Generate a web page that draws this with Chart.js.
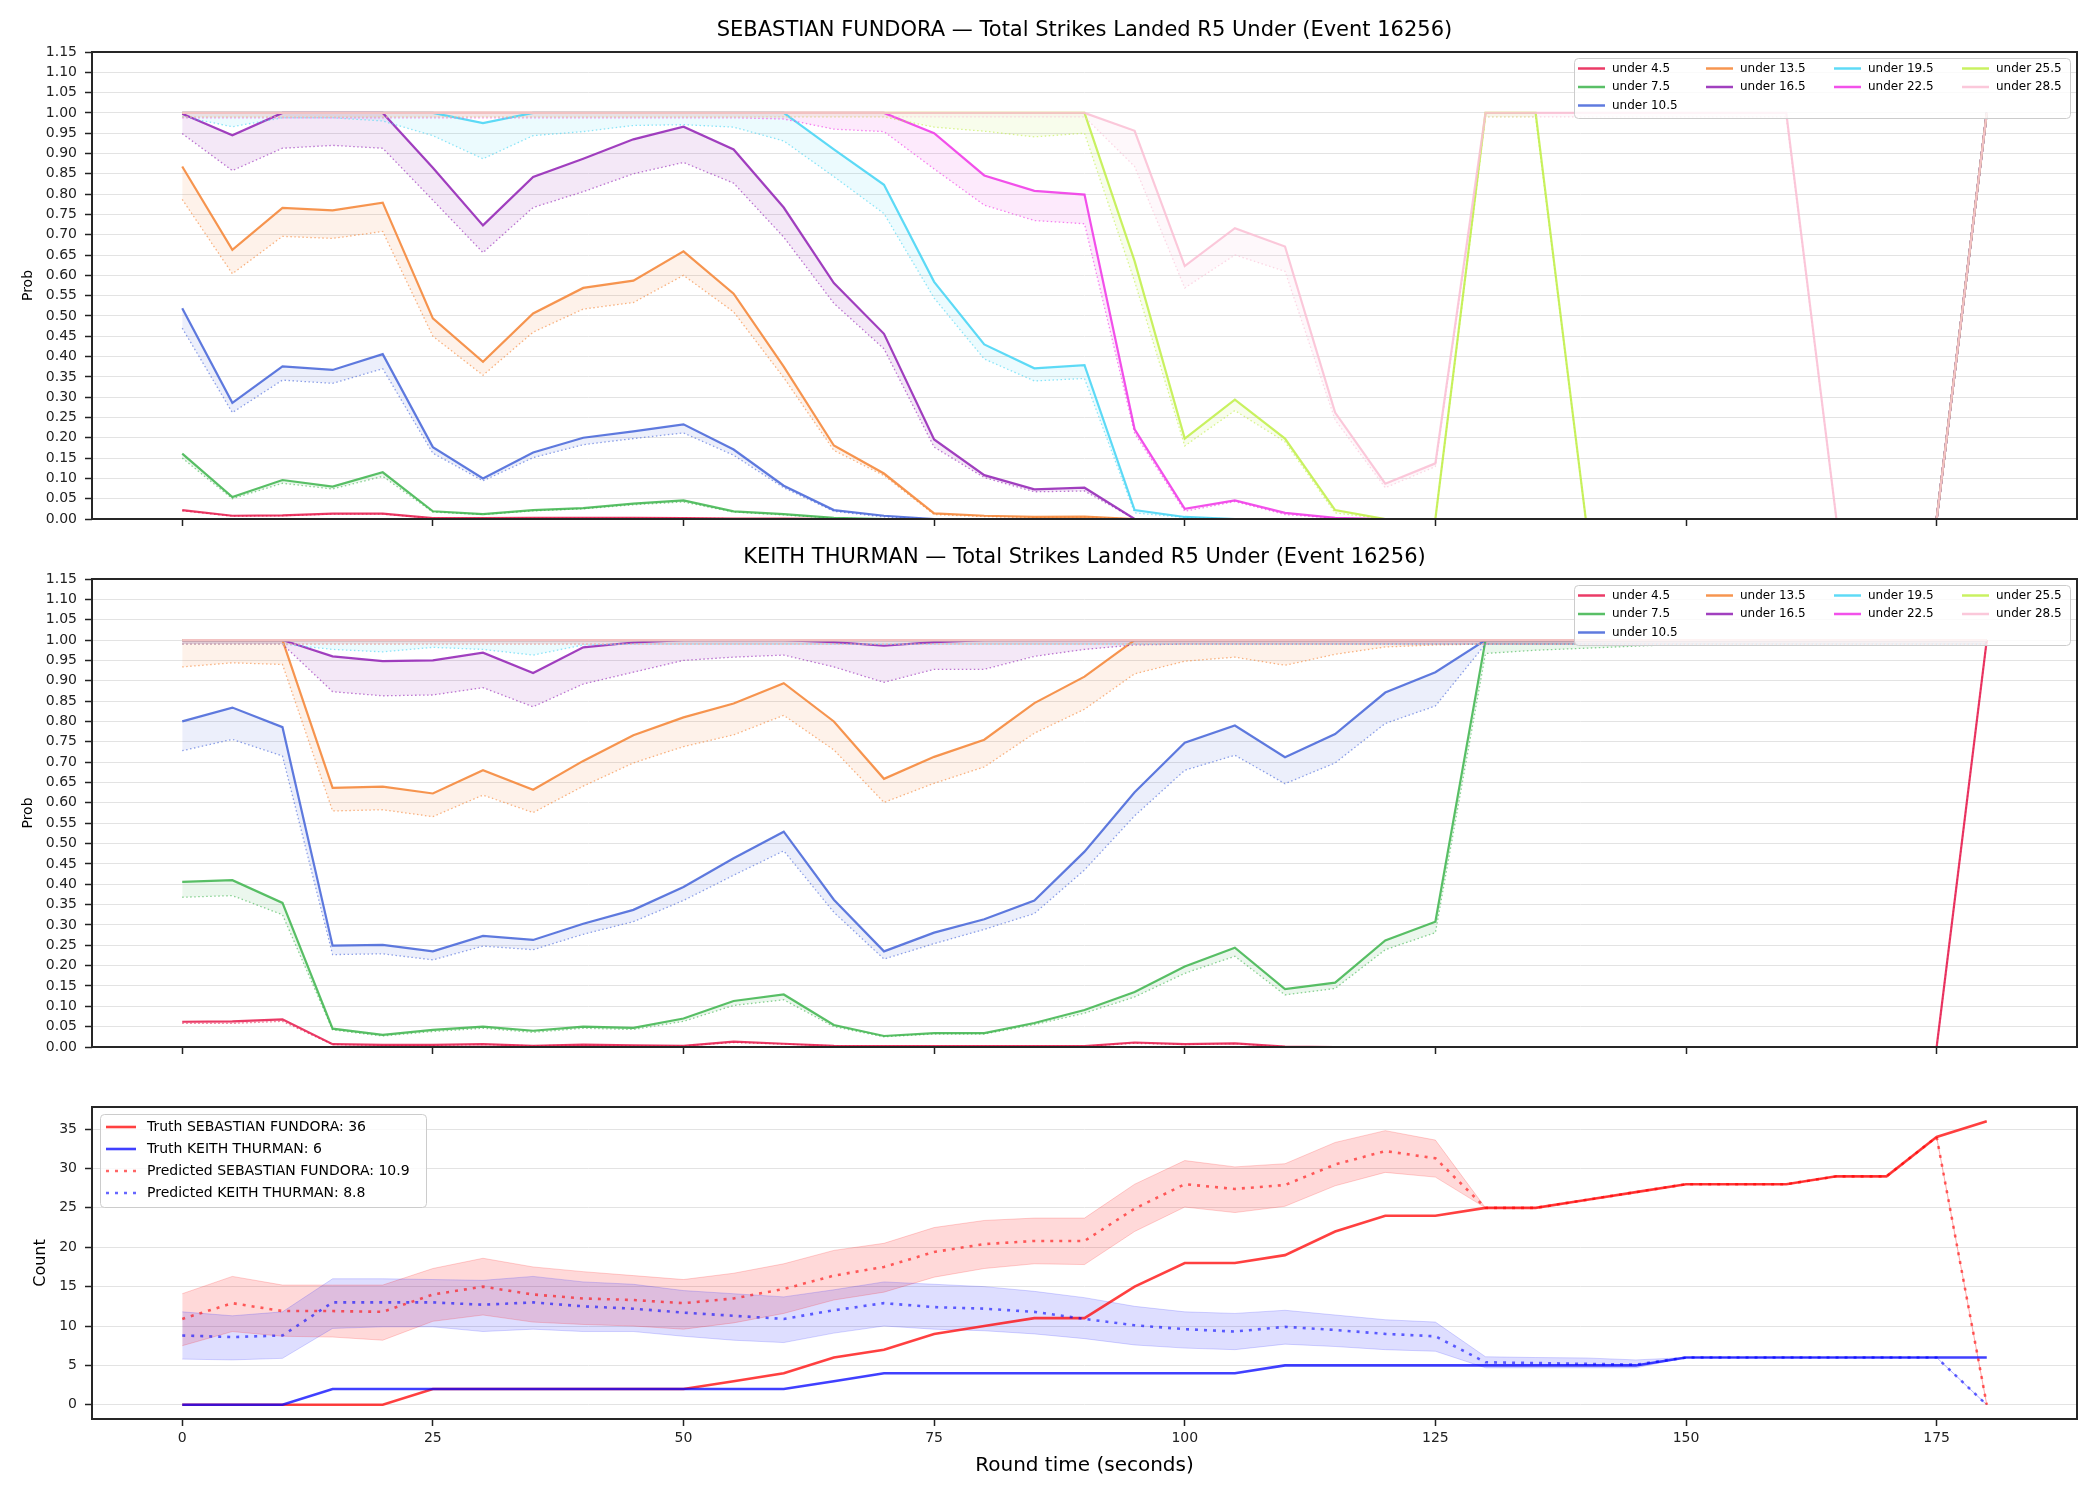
<!DOCTYPE html>
<html>
<head>
<meta charset="utf-8">
<script src="https://cdn.jsdelivr.net/npm/chart.js@4.4.1/dist/chart.umd.min.js"></script>
<style>
  body { margin: 0; background: #fff; width: 2100px; height: 1500px; position: relative; overflow: hidden; }
  canvas { position: absolute; left: 0; }
</style>
</head>
<body>
<canvas id="fundoraChart" width="2100" height="541" style="top:0px"></canvas>
<canvas id="thurmanChart" width="2100" height="539" style="top:530px"></canvas>
<canvas id="countChart" width="2100" height="430" style="top:1070px"></canvas>
<script>
// Round time in seconds (one sample every 5s)
const timeSec = [0,5,10,15,20,25,30,35,40,45,50,55,60,65,70,75,80,85,90,95,100,105,110,115,120,125,130,135,140,145,150,155,160,165,170,175,180];

// Tick labels
const timeTicks = [0,25,50,75,100,125,150,175];
const probTicks = [0,0.05,0.1,0.15,0.2,0.25,0.3,0.35,0.4,0.45,0.5,0.55,0.6,0.65,0.7,0.75,0.8,0.85,0.9,0.95,1,1.05,1.1,1.15];
const countTicks = [0,5,10,15,20,25,30,35];

const thresholdLabels = ['under 4.5','under 7.5','under 10.5','under 13.5','under 16.5','under 19.5','under 22.5','under 25.5','under 28.5'];
const thresholdColors = ['#e6194b','#3cb44b','#4363d8','#f58231','#911eb4','#42d4f4','#f032e6','#bfef45','#fabed4'];

// SEBASTIAN FUNDORA - market prob (solid) and predicted prob (dotted)
const fundoraU4_5      = [0.022,0.008,0.009,0.013,0.013, 0.002,0.002,0.003,0.003,0.003, 0.002,0.001,0.001,0,0, 0,0,0,0,0, 0,0,0,0,0, 0,0,0,0,0, 0,0,0,0,0, 0,1];
const fundoraU4_5Pred  = [0.020,0.007,0.008,0.012,0.012, 0.002,0.002,0.002,0.002,0.002, 0.002,0.001,0.001,0,0, 0,0,0,0,0, 0,0,0,0,0, 0,0,0,0,0, 0,0,0,0,0, 0,1];
const fundoraU7_5      = [0.161,0.054,0.096,0.080,0.115, 0.019,0.012,0.022,0.027,0.038, 0.046,0.019,0.012,0.003,0, 0,0,0,0,0, 0,0,0,0,0, 0,0,0,0,0, 0,0,0,0,0, 0,1];
const fundoraU7_5Pred  = [0.150,0.050,0.088,0.074,0.105, 0.017,0.011,0.020,0.025,0.035, 0.042,0.017,0.010,0.002,0, 0,0,0,0,0, 0,0,0,0,0, 0,0,0,0,0, 0,0,0,0,0, 0,1];
const fundoraU10_5     = [0.519,0.286,0.376,0.367,0.406, 0.177,0.100,0.164,0.200,0.216, 0.233,0.171,0.082,0.022,0.008, 0,0,0,0,0, 0,0,0,0,0, 0,0,0,0,0, 0,0,0,0,0, 0,1];
const fundoraU10_5Pred = [0.470,0.262,0.342,0.334,0.370, 0.162,0.094,0.151,0.183,0.198, 0.212,0.157,0.077,0.019,0.005, 0,0,0,0,0, 0,0,0,0,0, 0,0,0,0,0, 0,0,0,0,0, 0,1];
const fundoraU13_5     = [0.868,0.663,0.766,0.760,0.779, 0.494,0.387,0.506,0.569,0.587, 0.659,0.555,0.375,0.181,0.112, 0.014,0.008,0.005,0.006,0, 0,0,0,0,0, 0,0,0,0,0, 0,0,0,0,0, 0,1];
const fundoraU13_5Pred = [0.787,0.604,0.696,0.691,0.708, 0.450,0.354,0.460,0.517,0.533, 0.600,0.510,0.348,0.169,0.107, 0.011,0.006,0.004,0.005,0, 0,0,0,0,0, 0,0,0,0,0, 0,0,0,0,0, 0,1];
const fundoraU16_5     = [0.998,0.945,1,1,1, 0.865,0.723,0.842,0.887,0.935, 0.966,0.910,0.767,0.581,0.456, 0.196,0.108,0.073,0.077,0, 0,0,0,0,0, 0,0,0,0,0, 0,0,0,0,0, 0,1];
const fundoraU16_5Pred = [0.949,0.858,0.913,0.920,0.913, 0.785,0.656,0.767,0.806,0.850, 0.878,0.827,0.694,0.531,0.419, 0.177,0.102,0.067,0.069,0, 0,0,0,0,0, 0,0,0,0,0, 0,0,0,0,0, 0,1];
const fundoraU19_5     = [1,1,1,1,1, 1,0.975,1,1,1, 1,1,1,0.910,0.823, 0.584,0.430,0.371,0.379,0.022, 0.005,0,0,0,0, 0,0,0,0,0, 0,0,0,0,0, 0,1];
const fundoraU19_5Pred = [0.991,0.966,0.988,0.988,0.980, 0.944,0.887,0.944,0.954,0.969, 0.971,0.965,0.931,0.843,0.752, 0.544,0.394,0.340,0.346,0.015, 0.004,0,0,0,0, 0,0,0,0,0, 0,0,0,0,0, 0,1];
const fundoraU22_5     = [1,1,1,1,1, 1,1,1,1,1, 1,1,1,1,1, 0.950,0.846,0.808,0.799,0.221, 0.025,0.046,0.015,0.003,0, 0,0,0,0,0, 0,0,0,0,0, 0,1];
const fundoraU22_5Pred = [0.988,0.988,0.988,0.988,0.988, 0.988,0.988,0.988,0.988,0.988, 0.988,0.988,0.985,0.960,0.954, 0.862,0.773,0.735,0.727,0.211, 0.019,0.043,0.011,0.002,0, 0,0,0,0,0, 0,0,0,0,0, 0,1];
const fundoraU25_5     = [1,1,1,1,1, 1,1,1,1,1, 1,1,1,1,1, 1,1,1,1,0.635, 0.198,0.294,0.198,0.022,0, 0,1,1,0,0, 0,0,0,0,0, 0,1];
const fundoraU25_5Pred = [0.99,0.99,0.99,0.99,0.99, 0.99,0.99,0.99,0.99,0.99, 0.99,0.99,0.99,0.99,0.99, 0.965,0.955,0.941,0.950,0.585, 0.180,0.267,0.190,0.015,0, 0,0.99,0.99,0,0, 0,0,0,0,0, 0,1];
const fundoraU28_5     = [1,1,1,1,1, 1,1,1,1,1, 1,1,1,1,1, 1,1,1,1,0.956, 0.623,0.716,0.671,0.262,0.087, 0.137,1,1,1,1, 1,1,1,0,0, 0,1];
const fundoraU28_5Pred = [0.99,0.99,0.99,0.99,0.99, 0.99,0.99,0.99,0.99,0.99, 0.99,0.99,0.99,0.99,0.99, 0.99,0.99,0.99,0.99,0.868, 0.569,0.650,0.610,0.244,0.077, 0.129,0.99,0.99,0.99,0.99, 0.99,0.99,0.99,0,0, 0,1];

// KEITH THURMAN - market prob (solid) and predicted prob (dotted)
const thurmanU4_5      = [0.062,0.063,0.068,0.007,0.005, 0.005,0.007,0.003,0.006,0.004, 0.003,0.013,0.008,0.003,0.002, 0.002,0.002,0.002,0.002,0.011, 0.007,0.009,0.001,0,0, 0,0,0,0,0, 0,0,0,0,0, 0,1];
const thurmanU4_5Pred  = [0.058,0.058,0.063,0.006,0.004, 0.004,0.006,0.003,0.005,0.003, 0.003,0.011,0.007,0.003,0.002, 0.002,0.002,0.002,0.002,0.009, 0.006,0.008,0.001,0,0, 0,0,0,0,0, 0,0,0,0,0, 0,1];
const thurmanU7_5      = [0.406,0.410,0.354,0.045,0.030, 0.042,0.050,0.040,0.050,0.047, 0.070,0.113,0.129,0.054,0.027, 0.034,0.034,0.059,0.091,0.135, 0.198,0.244,0.142,0.158,0.262, 0.308,1,1,1,1, 1,1,1,1,1, 1,1];
const thurmanU7_5Pred  = [0.368,0.372,0.325,0.042,0.027, 0.038,0.046,0.036,0.046,0.043, 0.063,0.102,0.116,0.050,0.025, 0.032,0.032,0.055,0.083,0.123, 0.181,0.223,0.128,0.144,0.239, 0.281,0.967,0.975,0.980,0.985, 0.99,0.99,0.99,0.99,0.99, 0.99,0.99];
const thurmanU10_5     = [0.800,0.834,0.786,0.249,0.251, 0.235,0.273,0.263,0.303,0.337, 0.393,0.464,0.529,0.362,0.235, 0.281,0.314,0.360,0.480,0.626, 0.748,0.790,0.712,0.769,0.871, 0.921,1,1,1,1, 1,1,1,1,1, 1,1];
const thurmanU10_5Pred = [0.728,0.756,0.715,0.227,0.229, 0.214,0.248,0.239,0.277,0.308, 0.360,0.422,0.482,0.331,0.216, 0.254,0.289,0.328,0.435,0.568, 0.680,0.717,0.647,0.698,0.795, 0.838,0.99,0.99,0.99,0.99, 0.99,0.99,0.99,0.99,0.99, 0.99,0.99];
const thurmanU13_5     = [1,1,1,0.637,0.640, 0.623,0.680,0.632,0.703,0.766, 0.810,0.844,0.894,0.800,0.659, 0.713,0.755,0.845,0.910,1, 1,1,1,1,1, 1,1,1,1,1, 1,1,1,1,1, 1,1];
const thurmanU13_5Pred = [0.934,0.944,0.940,0.580,0.583, 0.566,0.619,0.576,0.641,0.698, 0.738,0.767,0.815,0.730,0.601, 0.648,0.688,0.771,0.830,0.917, 0.948,0.958,0.938,0.965,0.983, 0.988,0.99,0.99,0.99,0.99, 0.99,0.99,0.99,0.99,0.99, 0.99,0.99];
const thurmanU16_5     = [1,1,1,0.960,0.948, 0.950,0.969,0.919,0.982,0.994, 1,1,1,0.995,0.986, 0.995,1,1,1,1, 1,1,1,1,1, 1,1,1,1,1, 1,1,1,1,1, 1,1];
const thurmanU16_5Pred = [0.99,0.99,0.99,0.873,0.863, 0.865,0.883,0.836,0.892,0.921, 0.950,0.958,0.963,0.934,0.896, 0.928,0.928,0.960,0.977,0.988, 0.99,0.99,0.99,0.99,0.99, 0.99,0.99,0.99,0.99,0.99, 0.99,0.99,0.99,0.99,0.99, 0.99,0.99];
const thurmanU19_5     = [1,1,1,1,1, 1,1,1,1,1, 1,1,1,1,1, 1,1,1,1,1, 1,1,1,1,1, 1,1,1,1,1, 1,1,1,1,1, 1,1];
const thurmanU19_5Pred = [0.99,0.99,0.99,0.977,0.971, 0.982,0.977,0.963,0.988,0.99, 0.99,0.99,0.99,0.99,0.99, 0.99,0.99,0.99,0.99,0.99, 0.99,0.99,0.99,0.99,0.99, 0.99,0.99,0.99,0.99,0.99, 0.99,0.99,0.99,0.99,0.99, 0.99,0.99];
const thurmanU22_5     = [1,1,1,1,1, 1,1,1,1,1, 1,1,1,1,1, 1,1,1,1,1, 1,1,1,1,1, 1,1,1,1,1, 1,1,1,1,1, 1,1];
const thurmanU22_5Pred = [0.99,0.99,0.99,0.99,0.99, 0.99,0.99,0.99,0.99,0.99, 0.99,0.99,0.99,0.99,0.99, 0.99,0.99,0.99,0.99,0.99, 0.99,0.99,0.99,0.99,0.99, 0.99,0.99,0.99,0.99,0.99, 0.99,0.99,0.99,0.99,0.99, 0.99,0.99];
const thurmanU25_5     = [1,1,1,1,1, 1,1,1,1,1, 1,1,1,1,1, 1,1,1,1,1, 1,1,1,1,1, 1,1,1,1,1, 1,1,1,1,1, 1,1];
const thurmanU25_5Pred = [0.99,0.99,0.99,0.99,0.99, 0.99,0.99,0.99,0.99,0.99, 0.99,0.99,0.99,0.99,0.99, 0.99,0.99,0.99,0.99,0.99, 0.99,0.99,0.99,0.99,0.99, 0.99,0.99,0.99,0.99,0.99, 0.99,0.99,0.99,0.99,0.99, 0.99,0.99];
const thurmanU28_5     = [1,1,1,1,1, 1,1,1,1,1, 1,1,1,1,1, 1,1,1,1,1, 1,1,1,1,1, 1,1,1,1,1, 1,1,1,1,1, 1,1];
const thurmanU28_5Pred = [0.99,0.99,0.99,0.99,0.99, 0.99,0.99,0.99,0.99,0.99, 0.99,0.99,0.99,0.99,0.99, 0.99,0.99,0.99,0.99,0.99, 0.99,0.99,0.99,0.99,0.99, 0.99,0.99,0.99,0.99,0.99, 0.99,0.99,0.99,0.99,0.99, 0.99,0.99];

// Strike counts
const truthFundora     = [0,0,0,0,0, 2,2,2,2,2, 2,3,4,6,7, 9,10,11,11,15, 18,18,19,22,24, 24,25,25,26,27, 28,28,28,29,29, 34,36];
const truthThurman     = [0,0,0,2,2, 2,2,2,2,2, 2,2,2,3,4, 4,4,4,4,4, 4,4,5,5,5, 5,5,5,5,5, 6,6,6,6,6, 6,6];
const predFundora      = [10.9,12.9,11.9,11.9,11.8, 14.0,15.0,14.0,13.5,13.3, 12.9,13.5,14.7,16.4,17.5, 19.4,20.4,20.8,20.8,24.9, 28.0,27.4,27.9,30.5,32.2, 31.3,25,25,26,27, 28,28,28,29,29, 34,0];
const predFundoraHigh  = [14.1,16.3,15.2,15.2,15.2, 17.3,18.6,17.5,16.9,16.4, 15.9,16.7,17.9,19.6,20.5, 22.5,23.4,23.7,23.7,28.0, 31.0,30.2,30.6,33.3,34.8, 33.6,25,25,26,27, 28,28,28,29,29, 34,0];
const predFundoraLow   = [7.5,9.3,8.7,8.6,8.2, 10.6,11.4,10.5,10.2,10.0, 9.6,10.4,11.6,13.3,14.3, 16.2,17.3,17.9,17.8,22.0, 25.1,24.4,25.2,27.8,29.5, 28.9,25,25,26,27, 28,28,28,29,29, 34,0];
const predThurman      = [8.8,8.6,8.8,13.0,13.0, 13.0,12.7,13.0,12.5,12.2, 11.7,11.3,10.9,12.0,12.9, 12.4,12.2,11.8,10.9,10.1, 9.6,9.3,9.9,9.5,9.0, 8.7,5.4,5.3,5.2,5.1, 6,6,6,6,6, 6,0];
const predThurmanHigh  = [11.8,11.3,11.8,16.0,16.0, 15.9,15.8,16.3,15.6,15.3, 14.5,14.1,13.7,14.6,15.6, 15.3,15.0,14.4,13.6,12.5, 11.8,11.6,12.0,11.4,10.8, 10.5,6.1,6.0,5.95,5.7, 6,6,6,6,6, 6,0];
const predThurmanLow   = [5.8,5.7,5.9,9.7,9.9, 9.9,9.3,9.6,9.3,9.3, 8.7,8.2,7.9,9.1,10.0, 9.6,9.4,9.0,8.4,7.6, 7.2,7.0,7.7,7.4,7.0, 6.8,4.7,4.7,4.7,4.7, 6,6,6,6,6, 6,0];

const fundoraSolid = [fundoraU4_5, fundoraU7_5, fundoraU10_5, fundoraU13_5, fundoraU16_5, fundoraU19_5, fundoraU22_5, fundoraU25_5, fundoraU28_5];
const fundoraPred  = [fundoraU4_5Pred, fundoraU7_5Pred, fundoraU10_5Pred, fundoraU13_5Pred, fundoraU16_5Pred, fundoraU19_5Pred, fundoraU22_5Pred, fundoraU25_5Pred, fundoraU28_5Pred];
const thurmanSolid = [thurmanU4_5, thurmanU7_5, thurmanU10_5, thurmanU13_5, thurmanU16_5, thurmanU19_5, thurmanU22_5, thurmanU25_5, thurmanU28_5];
const thurmanPred  = [thurmanU4_5Pred, thurmanU7_5Pred, thurmanU10_5Pred, thurmanU13_5Pred, thurmanU16_5Pred, thurmanU19_5Pred, thurmanU22_5Pred, thurmanU25_5Pred, thurmanU28_5Pred];

Chart.defaults.font.family = '"DejaVu Sans", sans-serif';
Chart.defaults.color = '#222';

// Turn '#rrggbb' into an rgba() string
function withAlpha(hex, alpha) {
    const r = parseInt(hex.slice(1, 3), 16);
    const g = parseInt(hex.slice(3, 5), 16);
    const b = parseInt(hex.slice(5, 7), 16);
    return `rgba(${r},${g},${b},${alpha})`;
}

function toPoints(values) {
    return timeSec.map((t, i) => ({ x: t, y: values[i] }));
}

// Draws a matplotlib style legend box
function drawLegend(ctx, area, lg) {
    const left = lg.anchor === 'right' ? area.right - lg.offsetX - lg.width : area.left + lg.offsetX;
    const top = area.top + lg.offsetY;
    ctx.fillStyle = 'rgba(255,255,255,0.8)';
    ctx.strokeStyle = '#cccccc';
    ctx.lineWidth = 1;
    ctx.beginPath();
    ctx.roundRect(left + 0.5, top + 0.5, lg.width, lg.height, 4);
    ctx.fill();
    ctx.stroke();
    ctx.font = lg.fontSize + 'px "DejaVu Sans"';
    ctx.textAlign = 'left';
    ctx.textBaseline = 'middle';
    lg.columns.forEach((col, c) => {
        col.forEach((itemIndex, r) => {
            const item = lg.items[itemIndex];
            const x = left + lg.firstCol + c * lg.colWidth;
            const y = top + lg.firstRow + r * lg.rowHeight;
            ctx.strokeStyle = item.color;
            ctx.lineWidth = item.width;
            ctx.setLineDash(item.dash || []);
            ctx.beginPath();
            ctx.moveTo(x, y);
            ctx.lineTo(x + lg.lineLen, y);
            ctx.stroke();
            ctx.setLineDash([]);
            ctx.fillStyle = '#000';
            ctx.fillText(item.label, x + lg.textGap, y);
        });
    });
}

// Frame, panel title and legend
const panelDecor = {
    id: 'panelDecor',
    afterDraw(chart, args, opts) {
        const ctx = chart.ctx;
        const area = chart.chartArea;
        ctx.save();
        ctx.strokeStyle = '#262626';
        ctx.lineWidth = 2;
        ctx.strokeRect(area.left, area.top, area.right - area.left, area.bottom - area.top);
        if (opts.title) {
            ctx.fillStyle = '#000';
            ctx.font = '21px "DejaVu Sans"';
            ctx.textAlign = 'center';
            ctx.textBaseline = 'middle';
            ctx.fillText(opts.title, (area.left + area.right) / 2, area.top - 21);
        }
        if (opts.legend) drawLegend(ctx, area, opts.legend);
        ctx.restore();
    }
};

function probDatasets(solidSeries, predSeries) {
    const sets = [];
    solidSeries.forEach((values, i) => {
        const color = thresholdColors[i];
        sets.push({
            label: thresholdLabels[i],
            data: toPoints(values),
            borderColor: withAlpha(color, 0.85),
            borderWidth: 2.2,
            pointRadius: 0,
            fill: false
        });
        sets.push({
            label: thresholdLabels[i] + ' pred',
            data: toPoints(predSeries[i]),
            borderColor: withAlpha(color, 0.6),
            borderWidth: 1.3,
            borderDash: [1.5, 2.5],
            pointRadius: 0,
            fill: '-1',
            backgroundColor: withAlpha(color, 0.1)
        });
    });
    sets.forEach((s, k) => { s.order = -k; });
    return sets;
}

function timeAxis(height, showLabels) {
    return {
        type: 'linear',
        min: -9,
        max: 189,
        afterBuildTicks: axis => { axis.ticks = timeTicks.map(v => ({ value: v })); },
        afterFit: axis => { axis.height = height; },
        ticks: { display: showLabels, font: { size: 14 }, color: '#222', padding: 4, maxRotation: 0, autoSkip: false },
        grid: { drawOnChartArea: false, tickLength: 7, tickColor: '#222', tickWidth: 1.5 },
        border: { display: false },
        title: showLabels
            ? { display: true, text: 'Round time (seconds)', font: { size: 20 }, color: '#000', padding: { top: 0, bottom: 22 } }
            : { display: false }
    };
}

function probLegend() {
    return {
        anchor: 'right', offsetX: 7, offsetY: 6, width: 496, height: 60,
        firstCol: 4, colWidth: 128, firstRow: 10.5, rowHeight: 18.5,
        lineLen: 27, textGap: 34, fontSize: 12,
        columns: [[0, 1, 2], [3, 4], [5, 6], [7, 8]],
        items: thresholdLabels.map((label, i) => ({ label, color: withAlpha(thresholdColors[i], 0.85), width: 2.5 }))
    };
}

function probChart(canvasId, padTop, title, solidSeries, predSeries) {
    return new Chart(document.getElementById(canvasId), {
        type: 'line',
        data: { datasets: probDatasets(solidSeries, predSeries) },
        plugins: [panelDecor],
        options: {
            responsive: false,
            animation: false,
            events: [],
            layout: { padding: { top: padTop, right: 23, bottom: 0, left: 0 } },
            scales: {
                x: timeAxis(22, false),
                y: {
                    min: 0,
                    max: 1.15,
                    afterBuildTicks: axis => { axis.ticks = probTicks.map(v => ({ value: v })); },
                    afterFit: axis => { axis.width = 92; },
                    ticks: { callback: v => v.toFixed(2), font: { size: 14 }, color: '#222', padding: 8, autoSkip: false },
                    grid: { color: '#e3e3e3', lineWidth: 1, tickLength: 7, tickColor: '#222', tickWidth: 1.5 },
                    border: { display: false },
                    title: { display: true, text: 'Prob', font: { size: 14 }, color: '#000', padding: { top: 20, bottom: 0 } }
                }
            },
            plugins: {
                legend: { display: false },
                tooltip: { enabled: false },
                filler: { drawTime: 'beforeDatasetsDraw' },
                panelDecor: { title, legend: probLegend() }
            }
        }
    });
}

probChart('fundoraChart', 52, 'SEBASTIAN FUNDORA \u2014 Total Strikes Landed R5 Under (Event 16256)', fundoraSolid, fundoraPred);
probChart('thurmanChart', 49, 'KEITH THURMAN \u2014 Total Strikes Landed R5 Under (Event 16256)', thurmanSolid, thurmanPred);

// Bottom panel: truth vs predicted strike counts
const countDatasets = [
    { data: toPoints(predFundoraHigh), borderColor: 'rgba(255,0,0,0.18)', borderWidth: 1, pointRadius: 0, fill: false },
    { data: toPoints(predFundoraLow), borderColor: 'rgba(255,0,0,0.18)', borderWidth: 1, pointRadius: 0, fill: '-1', backgroundColor: 'rgba(255,0,0,0.15)' },
    { data: toPoints(predThurmanHigh), borderColor: 'rgba(0,0,255,0.16)', borderWidth: 1, pointRadius: 0, fill: false },
    { data: toPoints(predThurmanLow), borderColor: 'rgba(0,0,255,0.16)', borderWidth: 1, pointRadius: 0, fill: '-1', backgroundColor: 'rgba(0,0,255,0.13)' },
    { data: toPoints(truthFundora), borderColor: 'rgba(255,0,0,0.75)', borderWidth: 2.6, pointRadius: 0, fill: false },
    { data: toPoints(truthThurman), borderColor: 'rgba(0,0,255,0.75)', borderWidth: 2.6, pointRadius: 0, fill: false },
    { data: toPoints(predFundora), borderColor: 'rgba(255,0,0,0.6)', borderWidth: 2.6, borderDash: [3, 6], pointRadius: 0, fill: false },
    { data: toPoints(predThurman), borderColor: 'rgba(0,0,255,0.6)', borderWidth: 2.6, borderDash: [3, 6], pointRadius: 0, fill: false }
];
countDatasets.forEach((s, k) => { s.order = -k; });

const countLegend = {
    anchor: 'left', offsetX: 8, offsetY: 7, width: 326, height: 93,
    firstCol: 6, colWidth: 0, firstRow: 13, rowHeight: 22,
    lineLen: 30, textGap: 41, fontSize: 14,
    columns: [[0, 1, 2, 3]],
    items: [
        { label: 'Truth SEBASTIAN FUNDORA: 36', color: 'rgba(255,0,0,0.75)', width: 2.6 },
        { label: 'Truth KEITH THURMAN: 6', color: 'rgba(0,0,255,0.75)', width: 2.6 },
        { label: 'Predicted SEBASTIAN FUNDORA: 10.9', color: 'rgba(255,0,0,0.6)', width: 2.6, dash: [3, 6] },
        { label: 'Predicted KEITH THURMAN: 8.8', color: 'rgba(0,0,255,0.6)', width: 2.6, dash: [3, 6] }
    ]
};

new Chart(document.getElementById('countChart'), {
    type: 'line',
    data: { datasets: countDatasets },
    plugins: [panelDecor],
    options: {
        responsive: false,
        animation: false,
        events: [],
        layout: { padding: { top: 37, right: 23, bottom: 0, left: 0 } },
        scales: {
            x: timeAxis(81, true),
            y: {
                min: -1.8,
                max: 37.8,
                afterBuildTicks: axis => { axis.ticks = countTicks.map(v => ({ value: v })); },
                afterFit: axis => { axis.width = 92; },
                ticks: { font: { size: 14 }, color: '#222', padding: 8, autoSkip: false },
                grid: { color: '#e3e3e3', lineWidth: 1, tickLength: 7, tickColor: '#222', tickWidth: 1.5 },
                border: { display: false },
                title: { display: true, text: 'Count', font: { size: 16 }, color: '#000', padding: { top: 31, bottom: 0 } }
            }
        },
        plugins: {
            legend: { display: false },
            tooltip: { enabled: false },
            filler: { drawTime: 'beforeDatasetsDraw' },
            panelDecor: { legend: countLegend }
        }
    }
});
</script>
</body>
</html>
